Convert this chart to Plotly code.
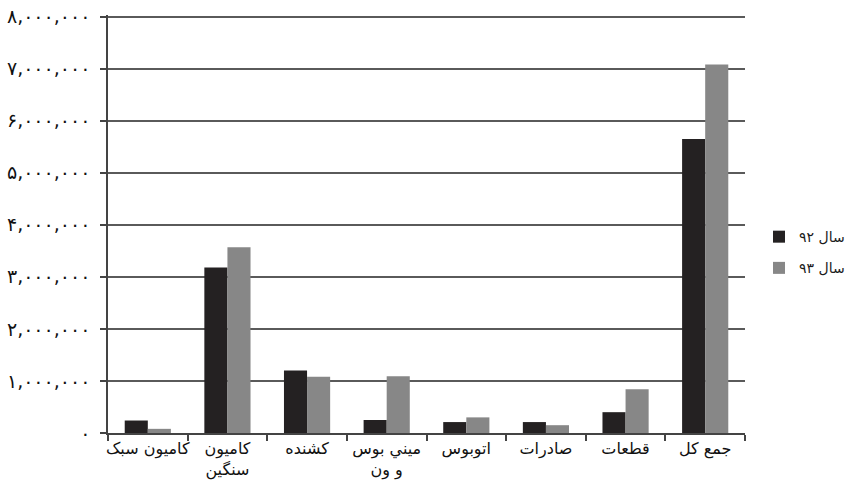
import plotly.graph_objects as go

categories = ["کامیون سبک", "کامیون<br>سنگین", "کشنده", "ميني بوس<br>و ون", "اتوبوس", "صادرات", "قطعات", "جمع کل"]
series_names = ["سال ۹۲", "سال ۹۳"]
values_92 = [240000, 3180000, 1200000, 250000, 210000, 210000, 400000, 5650000]
values_93 = [80000, 3570000, 1080000, 1090000, 300000, 150000, 840000, 7080000]
tick_vals = [0, 1000000, 2000000, 3000000, 4000000, 5000000, 6000000, 7000000, 8000000]
tick_text = ["۰", "۱,۰۰۰,۰۰۰", "۲,۰۰۰,۰۰۰", "۳,۰۰۰,۰۰۰", "۴,۰۰۰,۰۰۰",
             "۵,۰۰۰,۰۰۰", "۶,۰۰۰,۰۰۰", "۷,۰۰۰,۰۰۰", "۸,۰۰۰,۰۰۰"]

FONT = "DejaVu Sans, sans-serif"

fig = go.Figure()
fig.add_trace(go.Bar(x=categories, y=values_92, name=series_names[0],
                     marker=dict(color="#242122", line=dict(width=0)), legendgroup="a"))
fig.add_trace(go.Bar(x=categories, y=values_93, name=series_names[1],
                     marker=dict(color="#878787", line=dict(width=0)), legendgroup="b"))

fig.update_layout(
    width=852, height=495,
    margin=dict(l=108, r=107, t=15, b=62, autoexpand=False),
    paper_bgcolor="white", plot_bgcolor="white",
    barmode="group", bargap=0.42, bargroupgap=0,
    font=dict(family=FONT, color="#1a1a1a", size=15),
    legend=dict(x=1.022, y=0.507, xanchor="left", yanchor="top",
                font=dict(size=14, family=FONT), tracegroupgap=10,
                itemwidth=30, bgcolor="rgba(0,0,0,0)"),
    showlegend=True,
)
fig.update_xaxes(
    type="category", tickson="boundaries", ticks="outside", ticklen=6,
    tickcolor="#444", tickwidth=1.5, tickangle=0, automargin=False,
    showline=True, linecolor="#444", linewidth=1.5,
    showgrid=False, tickfont=dict(size=16, family=FONT, color="#111"),
)
fig.update_yaxes(
    range=[0, 8030000], tickvals=tick_vals, ticktext=tick_text, automargin=False,
    ticks="outside", ticklen=6, tickcolor="#444", tickwidth=1.5, ticklabelstandoff=6,
    showline=True, linecolor="#444", linewidth=1.5,
    showgrid=True, gridcolor="#5a5a5a", gridwidth=1.5,
    zeroline=False, tickfont=dict(size=19, family=FONT, color="#111"),
)

fig.write_html("out.html", config={"displayModeBar": False},
               post_script="document.body.style.margin='0';")
